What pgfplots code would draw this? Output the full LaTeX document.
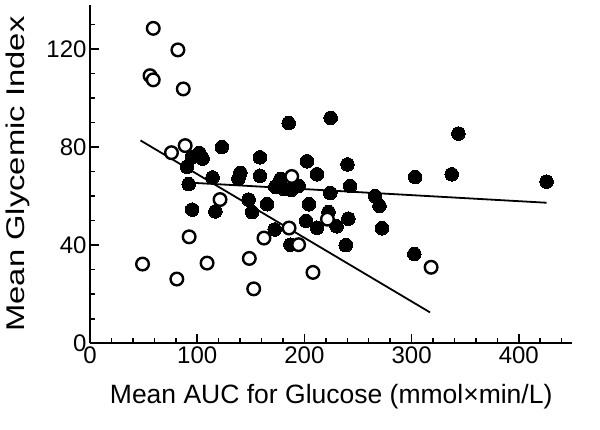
\documentclass[border=0pt]{standalone}
\usepackage{pgfplots}
\pgfplotsset{compat=1.18}
\usepackage{fontspec}
\setmainfont{Liberation Sans}
\begin{document}
\begin{tikzpicture}
\begin{axis}[
  at={(0,0)}, anchor=south west,
  scale only axis, width=482.4pt, height=338.5pt,
  xmin=0, xmax=450, ymin=0, ymax=138,
  axis x line*=bottom, axis y line*=left,
  axis line style={line width=2pt},
  xtick={0,100,200,300,400},
  minor xtick={20,40,60,80,120,140,160,180,220,240,260,280,320,340,360,380,420,440},
  ytick={0,40,80,120},
  minor ytick={10,20,30,50,60,70,90,100,110,130},
  tick align=inside,
  major tick length=9pt, minor tick length=5pt,
  every tick/.style={black, line width=1.5pt},
  every minor tick/.style={black, line width=1.5pt},
  /pgf/number format/assume math mode=true,
  tick label style={font=\fontsize{24}{28}\selectfont},
  xlabel={\fontsize{26.5}{30}\selectfont Mean AUC for Glucose (mmol×min/L)},
  xlabel style={at={(axis description cs:0.5,0)}, anchor=base, yshift=-60.7pt},
  ylabel={\fontsize{25.6}{30}\selectfont\scalebox{1.28}[1]{Mean Glycemic Index}},
  ylabel style={at={(axis description cs:0,0.5)}, anchor=base, yshift=65pt},
  clip=false,
]
\addplot[only marks, mark=*, mark size=6.8pt, mark options={fill=black, draw=black, line width=0pt}] coordinates {
(185.3,89.8) (224.5,91.9) (123,80) (102,77.6) (105,75.3) (95,75.8) (158.5,75.8) (202.4,74.2) (90.5,72) (211.7,68.9) (140.3,69.5) (138.4,67.1) (158.5,68.3) (114.3,67.6) (177.8,67) (172.9,63.8) (180.6,63) (187.6,62.5) (194.6,64.2) (92,64.9) (224.1,61.3) (240.2,72.9) (303.3,67.8) (337.4,68.9) (425.9,65.9) (242.7,64.1) (343.6,85.5) (266,60) (270,56) (222.5,53.5) (241,50.8) (230,47.7) (272.3,46.9) (238.6,40) (302.6,36.4) (95.3,54.5) (117,53.8) (148,58.6) (151.2,53.5) (165.2,56.7) (204.3,56.7) (201.6,49.9) (211.7,47.1) (172.3,46.4) (186.9,40.2)
};
\addplot[only marks, mark=*, mark size=6.3pt, mark options={fill=white, draw=black, line width=2.4pt}] coordinates {
(59,128.4) (82,119.6) (56,109.1) (59,107.4) (87,103.7) (88.8,80.6) (76,77.7) (188.2,68) (121.3,58.6) (221.5,50.6) (185.7,47) (92.5,43.4) (162.3,42.9) (194.6,40.2) (49,32.3) (109.2,32.7) (148.6,34.6) (81,26.2) (208,28.9) (152.7,22.2) (318.2,31)
};
\addplot[black, line width=1.8pt, no markers] coordinates {(97,65.4) (425.9,57.3)};
\addplot[black, line width=1.8pt, no markers] coordinates {(47.1,82.7) (317.2,12.6)};
\end{axis}
\pgfresetboundingbox
\path[use as bounding box] (-90pt,-86.7pt) rectangle (510pt,343.3pt);
\end{tikzpicture}
\end{document}
